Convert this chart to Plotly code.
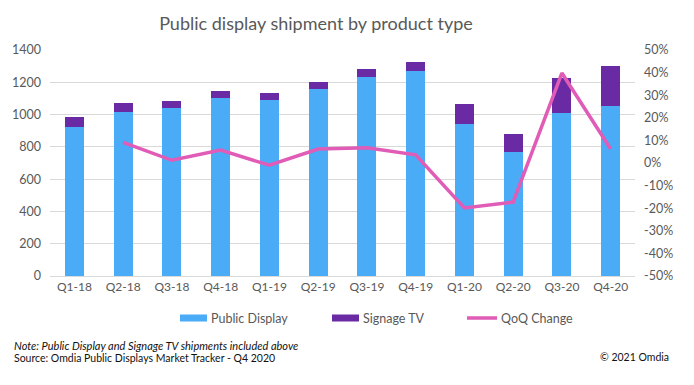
import plotly.graph_objects as go

quarters = ["Q1-18", "Q2-18", "Q3-18", "Q4-18", "Q1-19", "Q2-19",
            "Q3-19", "Q4-19", "Q1-20", "Q2-20", "Q3-20", "Q4-20"]
public_display = [925, 1018, 1041, 1103, 1090, 1159, 1233, 1268, 944, 770, 1012, 1055]
signage_tv = [58, 54, 43, 43, 44, 45, 51, 60, 120, 108, 215, 248]
qoq_change = [None, 9.1, 1.2, 5.7, -1.0, 6.2, 6.7, 3.6, -19.9, -17.3, 39.8, 6.2]

left_ticks = [0, 200, 400, 600, 800, 1000, 1200, 1400]
right_ticks = [-50, -40, -30, -20, -10, 0, 10, 20, 30, 40, 50]
right_tick_labels = ["-50%", "-40%", "-30%", "-20%", "-10%", "0%",
                     "10%", "20%", "30%", "40%", "50%"]

BLUE = "#4aabf6"
PURPLE = "#6a2aa3"
PINK = "#e05cb6"
GREY = "#595959"
FONT = "Lato"

fig = go.Figure()
fig.add_trace(go.Bar(x=quarters, y=public_display, name="Public Display",
                     marker=dict(color=BLUE, line=dict(width=0)), width=0.39))
fig.add_trace(go.Bar(x=quarters, y=signage_tv, name="Signage TV",
                     marker=dict(color=PURPLE, line=dict(width=0)), width=0.39))
fig.add_trace(go.Scatter(x=quarters, y=qoq_change, name="QoQ Change", yaxis="y2",
                         mode="lines", line=dict(color=PINK, width=3.5)))

W, H = 694, 385
L, R, T, B = 50, 59, 50, 109
pw = W - L - R
ph = H - T - B

def px(x):
    return (x - L) / pw

def py(y):
    return (H - B - y) / ph

shapes = []
annotations = []
# custom legend
legend_items = [
    (180, 207, BLUE, "Public Display", "rect"),
    (332, 359, PURPLE, "Signage TV", "rect"),
    (467, 497, PINK, "QoQ Change", "line"),
]
ly = 318
for x0, x1, col, label, kind in legend_items:
    if kind == "rect":
        shapes.append(dict(type="rect", xref="paper", yref="paper",
                           x0=px(x0), x1=px(x1), y0=py(ly + 3.5), y1=py(ly - 3.5),
                           fillcolor=col, line=dict(width=0)))
    else:
        shapes.append(dict(type="line", xref="paper", yref="paper",
                           x0=px(x0), x1=px(x1), y0=py(ly), y1=py(ly),
                           line=dict(color=col, width=3.5)))
    annotations.append(dict(text=label, xref="paper", yref="paper",
                            x=px(x1 + 2), y=py(ly), xanchor="left", yanchor="middle",
                            showarrow=False, font=dict(family=FONT, size=12.5, color=GREY)))

annotations.append(dict(text="<i>Note: Public Display and Signage TV shipments included above</i>",
                        xref="paper", yref="paper", x=px(12), y=py(345),
                        xanchor="left", yanchor="middle", showarrow=False,
                        font=dict(family=FONT, size=11, color="#111111")))
annotations.append(dict(text="Source: Omdia Public Displays Market Tracker - Q4 2020",
                        xref="paper", yref="paper", x=px(12), y=py(358),
                        xanchor="left", yanchor="middle", showarrow=False,
                        font=dict(family=FONT, size=10.5, color="#111111")))
annotations.append(dict(text="© 2021 Omdia",
                        xref="paper", yref="paper", x=px(598), y=py(357),
                        xanchor="left", yanchor="middle", showarrow=False,
                        font=dict(family=FONT, size=10.5, color="#111111")))

fig.update_layout(
    width=W, height=H,
    margin=dict(l=L, r=R, t=T, b=B, autoexpand=False),
    paper_bgcolor="white", plot_bgcolor="white",
    barmode="stack", bargap=0.61,
    showlegend=False,
    title=dict(text="Public display shipment by product type", x=316 / W, xanchor="center",
               y=1 - 24 / H, yanchor="middle", xref="container", yref="container",
               font=dict(family=FONT, size=18, color=GREY)),
    font=dict(family=FONT, color=GREY),
    xaxis=dict(showgrid=False, showline=True, linecolor="#d9d9d9", linewidth=1,
               ticks="", tickfont=dict(size=12, color=GREY)),
    yaxis=dict(range=[0, 1400], tickvals=left_ticks, showgrid=True, gridcolor="#d9d9d9",
               gridwidth=1, zeroline=False, showline=False, ticks="",
               tickfont=dict(size=12.5, color=GREY), ticklabelstandoff=8),
    yaxis2=dict(range=[-50, 50], tickvals=right_ticks, ticktext=right_tick_labels,
                overlaying="y", side="right", showgrid=False, zeroline=False,
                showline=False, ticks="",
                tickfont=dict(size=12.5, color=GREY), ticklabelstandoff=8),
    shapes=shapes,
    annotations=annotations,
)

fig.write_html("out.html", config={"displayModeBar": False},
               post_script="document.body.style.margin='0px';document.body.style.padding='0px';")
